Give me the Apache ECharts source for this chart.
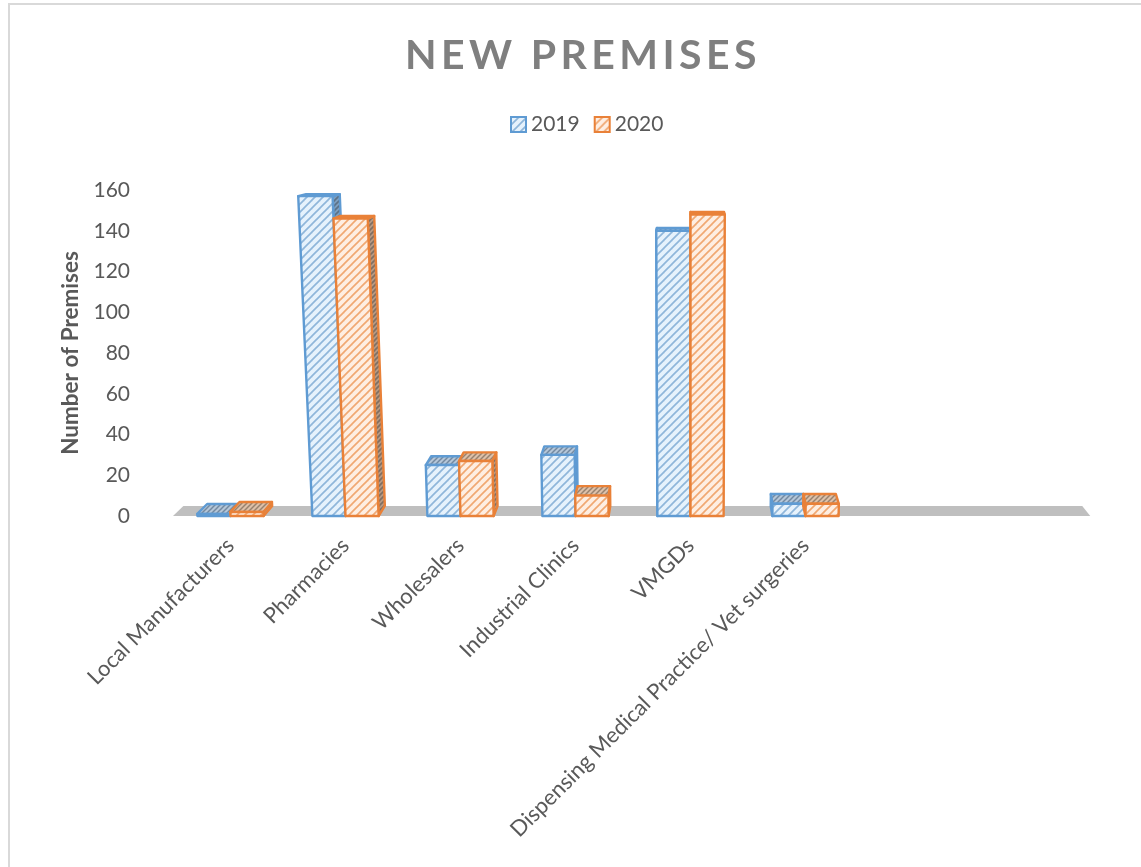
<!DOCTYPE html>
<html><head><meta charset="utf-8">
<style>html,body{margin:0;padding:0;background:#fff}#c{width:1141px;height:867px}</style>
<script src="https://cdn.jsdelivr.net/npm/echarts@6/dist/echarts.min.js"></script>
</head><body><div id="c"></div>
<script>
const categories = ['Local Manufacturers','Pharmacies','Wholesalers','Industrial Clinics','VMGDs','Dispensing Medical Practice/ Vet surgeries','',''];
const values2019 = [1,157,25,30,140,6,null,null];
const values2020 = [2,146,27,10,148,6,null,null];
const yTicks = {min:0,max:160,interval:20};

// Title tracking: ECharts has no letter-spacing option for canvas text
const origFill = CanvasRenderingContext2D.prototype.fillText;
CanvasRenderingContext2D.prototype.fillText = function(t,x,y,m){
  if(t==='NEW PREMISES'){this.letterSpacing='4.4px';origFill.call(this,t,x,y);this.letterSpacing='0px';}
  else if(m===undefined) origFill.call(this,t,x,y); else origFill.call(this,t,x,y,m);
};

function hatch(bg,line,size,w){
  const c=document.createElement('canvas');c.width=c.height=size;
  const g=c.getContext('2d');g.fillStyle=bg;g.fillRect(0,0,size,size);
  g.strokeStyle=line;g.lineWidth=w;
  [[-size,size,size,-size],[0,size,size,0],[0,2*size,2*size,0]].forEach(p=>{g.beginPath();g.moveTo(p[0],p[1]);g.lineTo(p[2],p[3]);g.stroke();});
  return {image:c,repeat:'repeat'};
}
const looks = {
  2019:{line:'#5f9bd3',front:hatch('#e6f2fc','#8fb6da',8,1.7),top:hatch('#b4c6d8','#7389a0',5,1.5),side:hatch('#7d9fc0','#5c7186',5,1.6)},
  2020:{line:'#e98138',front:hatch('#feeee2','#f0a872',8,1.7),top:hatch('#ddc0a9','#98826f',5,1.5),side:hatch('#b89a84','#7f6f62',5,1.6)}
};

function bar(name,vals,side){
  const look=looks[name];
  return {
    name:String(name),type:'custom',z:3,
    data:vals.map((v,i)=>[i,v]),encode:{x:0,y:1},
    itemStyle:{color:look.front,borderColor:look.line,borderWidth:2},
    renderItem(params,api){
      if(api.value(1)==null||isNaN(api.value(1))) return null;
      const cs=params.coordSys, vx=cs.x+cs.width*0.5625, vy=cs.y-75;
      const base=api.coord([api.value(0),0]), tip=api.coord([api.value(0),api.value(1)]);
      const w=api.size([1,0])[0]*0.288;
      const x0=base[0]+(side<0?-w:0), x1=x0+w, y0=base[1], y1=tip[1];
      const lean=(x,y)=>[x-(vx-x)*1.17e-4*(y0-y),y];
      const back=p=>[p[0]+(vx-p[0])*0.02,p[1]+(vy-p[1])*0.025];
      const a=lean(x0,y0),b=lean(x1,y0),c=lean(x1,y1),d=lean(x0,y1);
      const shape=(pts,fill)=>({type:'polygon',shape:{points:pts},style:{fill,stroke:look.line,lineWidth:2.4,lineJoin:'round'}});
      const kids=[];
      kids.push(b[0]<vx?shape([b,back(b),back(c),c],look.side):shape([a,back(a),back(d),d],look.side));
      kids.push(shape([d,c,back(c),back(d)],look.top));
      kids.push(shape([a,b,c,d],look.front));
      return {type:'group',children:kids};
    }
  };
}

const chart=echarts.init(document.getElementById('c'),null,{renderer:'canvas'});
chart.setOption({
  animation:false,backgroundColor:'#fff',
  title:{text:'NEW PREMISES',left:405,top:35,padding:[0,0,0,0],
    textStyle:{fontFamily:'Lato',fontWeight:'bold',fontSize:41,color:'#7f7f7f'}},
  legend:{data:['2019','2020'],icon:'rect',top:109,left:505,itemWidth:15,itemHeight:15,itemGap:14,
    textStyle:{fontFamily:'Lato',fontSize:21,color:'#595959'}},
  grid:{left:173,right:48,top:190,bottom:351},
  xAxis:{type:'category',data:categories,
    axisLine:{show:false},axisTick:{show:false},
    axisLabel:{interval:0,rotate:45,margin:26,fontFamily:'Lato',fontSize:22,color:'#595959'}},
  yAxis:{type:'value',min:yTicks.min,max:yTicks.max,interval:yTicks.interval,
    name:'Number of Premises',nameLocation:'middle',nameGap:89,
    nameTextStyle:{fontFamily:'Lato',fontWeight:'bold',fontSize:22.5,color:'#595959'},
    axisLine:{show:false},axisTick:{show:false},splitLine:{show:false},
    axisLabel:{margin:43,fontFamily:'Lato',fontSize:21,color:'#595959'}},
  graphic:[{type:'polyline',silent:true,z:-10,shape:{points:[[9,880],[9,4],[1150,4]]},style:{fill:'none',stroke:'#d9d9d9',lineWidth:2}}],
  series:[
    {type:'custom',name:'floor',z:1,silent:true,data:[[0,0]],encode:{x:0,y:1},
     renderItem(params,api){
       const cs=params.coordSys, vx=cs.x+cs.width*0.5625, vy=cs.y-75;
       const y=api.coord([0,0])[1], l=cs.x, r=cs.x+cs.width*0.997;
       const back=p=>[p[0]+(vx-p[0])*0.02,p[1]+(vy-p[1])*0.025];
       return {type:'polygon',shape:{points:[[l,y],[r,y],back([r,y]),back([l,y])]},style:{fill:'#bfbfbf'}};
     }},
    bar(2019,values2019,-1),
    bar(2020,values2020,1)
  ]
});
</script></body></html>
